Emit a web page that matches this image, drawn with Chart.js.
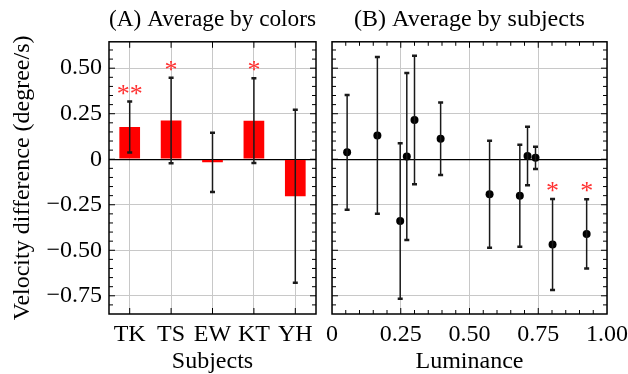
<!DOCTYPE html>
<html>
<head>
<meta charset="utf-8">
<script src="https://cdn.jsdelivr.net/npm/chart.js@4.4.1/dist/chart.umd.min.js"></script>
<style>
    html, body { margin: 0; padding: 0; background: #fff; overflow: hidden; }
    canvas { position: absolute; top: 0; }
    #colors { left: 0; }
    #subjects { left: 320px; }
</style>
</head>
<body>
<canvas id="colors" width="320" height="380"></canvas>
<canvas id="subjects" width="330" height="380"></canvas>
<script>
// Panel A: average by colors, per subject
var subjects = ['TK', 'TS', 'EW', 'KT', 'YH'];
var colorMeans = [0.177, 0.213, -0.017, 0.212, -0.203];
var colorErrors = [0.14, 0.235, 0.163, 0.233, 0.475];
var colorStars = ['**', '*', '', '*', ''];

// Panel B: average by subjects, per luminance
var luminance = [0.055, 0.165, 0.248, 0.272, 0.30, 0.395, 0.573, 0.683, 0.711, 0.74, 0.802, 0.926];
var subjectMeans = [0.038, 0.131, -0.339, 0.015, 0.215, 0.112, -0.192, -0.20, 0.018, 0.008, -0.468, -0.41];
var subjectErrors = [0.315, 0.43, 0.427, 0.459, 0.353, 0.199, 0.294, 0.28, 0.161, 0.061, 0.25, 0.19];
var subjectStars = ['', '', '', '', '', '', '', '', '', '', '*', '*'];

// Axis ticks
var yTicks = [-0.75, -0.5, -0.25, 0, 0.25, 0.5];
var xTicks = [0, 0.25, 0.5, 0.75, 1];
var yMin = -0.85, yMax = 0.645;

var serif = '"Liberation Serif", "Times New Roman", serif';
var gridGray = '#c8c8c8';

function fmt(v) {
    if (v === 0) return '0';
    return (v < 0 ? '\u2212' : '') + Math.abs(v).toFixed(2);
}

/**
 * Error bars and significance stars, read from dataset.errors / dataset.stars.
 */
var errorBars = {
    id: 'errorBars',
    afterDatasetsDraw: function (chart) {
        var ctx = chart.ctx;
        var yScale = chart.scales.y;
        var ds = chart.data.datasets[0];
        var meta = chart.getDatasetMeta(0);
        ctx.save();
        ds.data.forEach(function (d, i) {
            var v = typeof d === 'object' ? d.y : d;
            var e = ds.errors[i];
            var x = meta.data[i].x;
            var top = yScale.getPixelForValue(v + e);
            var bottom = yScale.getPixelForValue(v - e);
            ctx.strokeStyle = '#1a1a1a';
            ctx.lineWidth = 1.5;
            ctx.beginPath();
            ctx.moveTo(x, top);
            ctx.lineTo(x, bottom);
            ctx.stroke();
            ctx.lineWidth = 2.5;
            ctx.beginPath();
            ctx.moveTo(x - 2.5, top);
            ctx.lineTo(x + 2.5, top);
            ctx.moveTo(x - 2.5, bottom);
            ctx.lineTo(x + 2.5, bottom);
            ctx.stroke();
            if (ds.stars[i]) {
                ctx.fillStyle = '#ff3030';
                ctx.font = '26px ' + serif;
                ctx.textAlign = 'center';
                ctx.textBaseline = 'alphabetic';
                ctx.fillText(ds.stars[i], x, top);
            }
        });
        ctx.restore();
    }
};

/**
 * Frame and inward ticks on all four sides.
 */
var frameTicks = {
    id: 'frameTicks',
    afterDraw: function (chart) {
        var ctx = chart.ctx;
        var a = chart.chartArea;
        var xScale = chart.scales.x;
        var yScale = chart.scales.y;
        ctx.save();
        ctx.strokeStyle = '#000';
        ctx.lineWidth = 1;
        ctx.beginPath();
        for (var k = -17; k <= 12; k++) {
            var py = yScale.getPixelForValue(k * 0.05);
            if (py < a.top + 1 || py > a.bottom - 1) continue;
            var len = k % 5 === 0 ? 6 : 4;
            ctx.moveTo(a.left, py);
            ctx.lineTo(a.left + len, py);
            ctx.moveTo(a.right, py);
            ctx.lineTo(a.right - len, py);
        }
        if (chart.config.type === 'bar') {
            chart.data.labels.forEach(function (l, i) {
                var px = xScale.getPixelForValue(i);
                ctx.moveTo(px, a.top);
                ctx.lineTo(px, a.top + 6);
                ctx.moveTo(px, a.bottom);
                ctx.lineTo(px, a.bottom - 6);
            });
        } else {
            for (var j = 1; j < 20; j++) {
                var px = xScale.getPixelForValue(j * 0.05);
                var l2 = j % 5 === 0 ? 6 : 4;
                ctx.moveTo(px, a.top);
                ctx.lineTo(px, a.top + l2);
                ctx.moveTo(px, a.bottom);
                ctx.lineTo(px, a.bottom - l2);
            }
        }
        ctx.stroke();
        ctx.lineWidth = 1.5;
        ctx.strokeRect(a.left, a.top, a.right - a.left, a.bottom - a.top);
        ctx.restore();
    }
};

function yAxis(width, showLabels, showTitle) {
    return {
        type: 'linear',
        min: yMin,
        max: yMax,
        afterBuildTicks: function (scale) {
            scale.ticks = yTicks.map(function (v) { return {value: v}; });
        },
        afterFit: function (scale) {
            scale.width = width;
        },
        border: {display: false},
        grid: {
            drawTicks: false,
            color: function (c) { return c.tick && c.tick.value === 0 ? '#000' : gridGray; },
            lineWidth: function (c) { return c.tick && c.tick.value === 0 ? 1.3 : 1; }
        },
        ticks: {
            display: showLabels,
            color: '#000',
            padding: 7,
            font: {family: serif, size: 24},
            callback: function (v) { return fmt(v); }
        },
        title: {
            display: showTitle,
            text: 'Velocity difference (degree/s)',
            color: '#000',
            padding: {top: 8},
            font: {family: serif, size: 24}
        }
    };
}

function xTitle(text) {
    return {
        display: true,
        text: text,
        color: '#000',
        padding: {top: 0},
        font: {family: serif, size: 24}
    };
}

function panelTitle(text, align) {
    return {
        display: true,
        text: text,
        align: align,
        color: '#000',
        fullSize: false,
        padding: {top: 5, bottom: 8},
        font: {family: serif, size: 24, weight: 'normal'}
    };
}

Chart.defaults.animation = false;

new Chart(document.getElementById('colors'), {
    type: 'bar',
    data: {
        labels: subjects,
        datasets: [{
            data: colorMeans,
            errors: colorErrors,
            stars: colorStars,
            backgroundColor: '#ff0000',
            borderWidth: 0,
            categoryPercentage: 1,
            barPercentage: 0.5
        }]
    },
    options: {
        responsive: false,
        layout: {padding: {left: 0, right: 4, top: 0, bottom: 0}},
        plugins: {
            legend: {display: false},
            tooltip: {enabled: false},
            title: panelTitle('(A) Average by colors', 'end')
        },
        scales: {
            x: {
                grid: {offset: false, drawTicks: false, color: gridGray},
                border: {display: false},
                afterFit: function (scale) { scale.height = 66; },
                ticks: {
                    color: '#000',
                    padding: 6,
                    autoSkip: false,
                    minRotation: 0,
                    maxRotation: 0,
                    font: {family: serif, size: 24}
                },
                title: xTitle('Subjects')
            },
            y: yAxis(109, true, true)
        }
    },
    plugins: [errorBars, frameTicks]
});

new Chart(document.getElementById('subjects'), {
    type: 'scatter',
    data: {
        datasets: [{
            data: luminance.map(function (x, i) { return {x: x, y: subjectMeans[i]}; }),
            errors: subjectErrors,
            stars: subjectStars,
            backgroundColor: '#000',
            borderWidth: 0,
            pointRadius: 4
        }]
    },
    options: {
        responsive: false,
        layout: {padding: {left: 0, right: 43, top: 0, bottom: 0}},
        plugins: {
            legend: {display: false},
            tooltip: {enabled: false},
            title: panelTitle('(B) Average by subjects', 'center')
        },
        scales: {
            x: {
                type: 'linear',
                min: 0,
                max: 1,
                afterBuildTicks: function (scale) {
                    scale.ticks = xTicks.map(function (v) { return {value: v}; });
                },
                afterFit: function (scale) { scale.height = 66; },
                grid: {drawTicks: false, color: gridGray},
                border: {display: false},
                ticks: {
                    color: '#000',
                    padding: 6,
                    minRotation: 0,
                    maxRotation: 0,
                    font: {family: serif, size: 24},
                    callback: function (v) { return fmt(v); }
                },
                title: xTitle('Luminance')
            },
            y: yAxis(12, false, false)
        }
    },
    plugins: [errorBars, frameTicks]
});
</script>
</body>
</html>
